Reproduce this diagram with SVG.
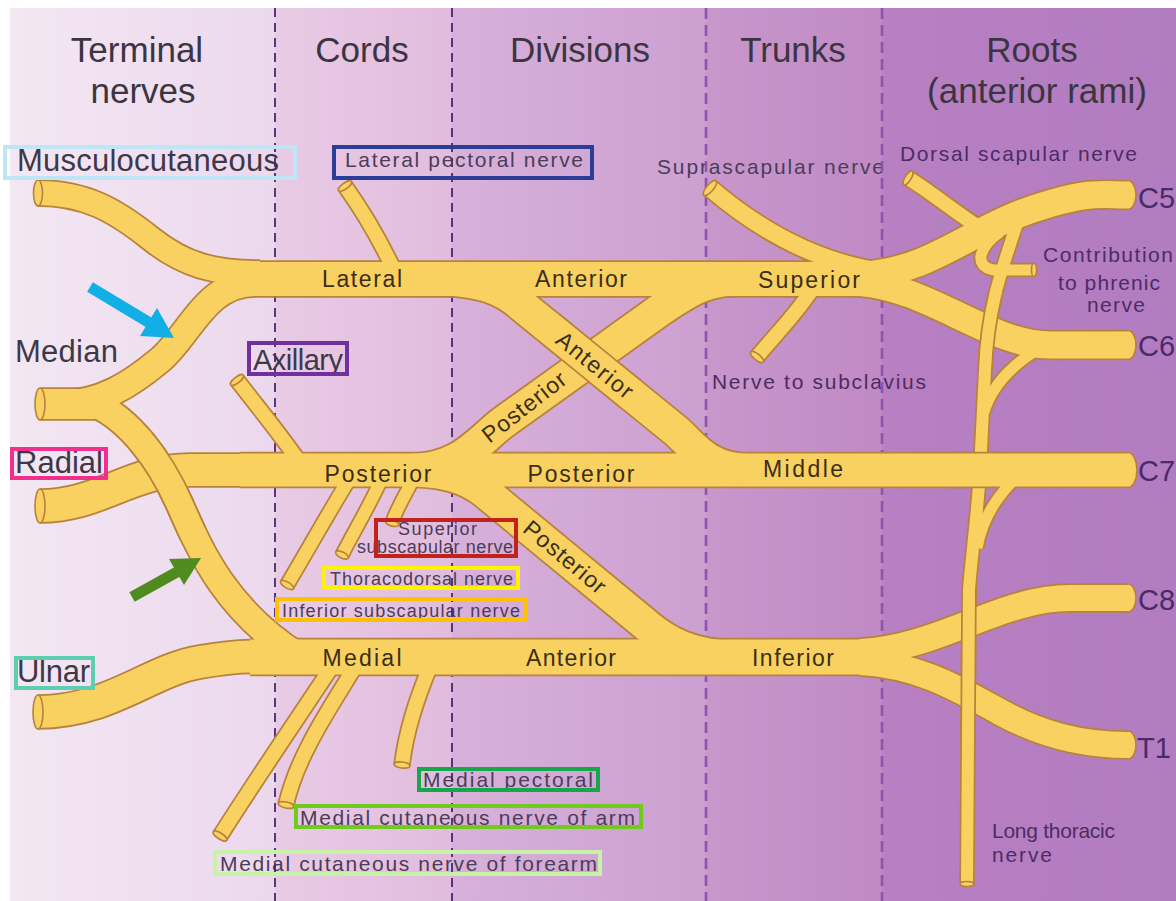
<svg xmlns="http://www.w3.org/2000/svg" width="1176" height="901" viewBox="0 0 1176 901">
<defs>
<style>
.lbl{font-family:"Liberation Sans",Arial,Helvetica,sans-serif}
.hd{font-size:35px;fill:#3a3541;text-anchor:middle}
.tn{font-size:31px;fill:#3e3846}
.sm{font-size:21px;fill:#4b3d57}
.xs{font-size:18px;fill:#4b3d57}
.smr{font-size:21px;fill:#4d2c63}
.rt{font-size:29px;fill:#4a2a6a}
.bd{font-size:23px;fill:#3b2e17;text-anchor:middle}
.ol{fill:none;stroke:#b7823c;stroke-linejoin:round}
.fl{fill:none;stroke:#f9d160;stroke-linejoin:round}
.rc{stroke-linecap:round}
.cap{fill:#f9d160;stroke:#b7823c;stroke-width:1.6}
.dv1{stroke:#45286b;stroke-width:1.8;stroke-dasharray:9 6;fill:none}
.dv2{stroke:#8c55ad;stroke-width:2.6;stroke-dasharray:11 6;fill:none}
.box{fill:none;stroke-width:4}
.w11{stroke-width:11}.ol.w11{stroke-width:14.5}
.w12{stroke-width:12}.ol.w12{stroke-width:15.5}
.w13{stroke-width:13}.ol.w13{stroke-width:16.5}
.w14{stroke-width:14}.ol.w14{stroke-width:17.5}
.w17{stroke-width:17}.ol.w17{stroke-width:20.5}
.w24{stroke-width:24}.ol.w24{stroke-width:27.5}
.w26{stroke-width:26}.ol.w26{stroke-width:29.5}
.w27{stroke-width:27}.ol.w27{stroke-width:30.5}
.w30{stroke-width:30}.ol.w30{stroke-width:33.5}
.w32{stroke-width:32}.ol.w32{stroke-width:35.5}
.w33{stroke-width:33}.ol.w33{stroke-width:36.5}
.w34{stroke-width:34}.ol.w34{stroke-width:37.5}
.w35{stroke-width:35}.ol.w35{stroke-width:38.5}
</style>
<linearGradient id="bg-term" x1="0" x2="1" y1="0" y2="0"><stop offset="0" stop-color="#f3e7f3"/><stop offset="1" stop-color="#ecd8ed"/></linearGradient>
<linearGradient id="bg-cord" x1="0" x2="1" y1="0" y2="0"><stop offset="0" stop-color="#e9cbe5"/><stop offset="1" stop-color="#e1bcdd"/></linearGradient>
<linearGradient id="bg-div" x1="0" x2="1" y1="0" y2="0"><stop offset="0" stop-color="#d8b1da"/><stop offset="1" stop-color="#cc9fd1"/></linearGradient>
<linearGradient id="bg-trunk" x1="0" x2="1" y1="0" y2="0"><stop offset="0" stop-color="#c897cb"/><stop offset="1" stop-color="#c08ac5"/></linearGradient>
<linearGradient id="bg-root" x1="0" x2="1" y1="0" y2="0"><stop offset="0" stop-color="#b880c3"/><stop offset="1" stop-color="#b27cc0"/></linearGradient>

<!-- nerve centre-lines -->
<path id="n-musc" d="M38 193 C85 193 115 210 150 238 S215 273 260 273"/>
<path id="n-median" d="M40 404 H115"/>
<path id="n-latroot" d="M60 404 C100 404 130 385 160 360 S205 283 255 283"/>
<path id="n-medroot" pathLength="100" d="M95 404 C130 420 160 460 180 505 S225 610 300 657"/>
<path id="n-radial" d="M40 506 C100 506 130 470 190 470 L260 470"/>
<path id="n-ulnar" d="M38 712 C110 712 150 670 200 662 S250 657 280 657"/>
<path id="n-lat" d="M240 279 H885"/>
<path id="n-post" d="M240 470 H1128"/>
<path id="n-med" d="M250 657 H885"/>
<path id="n-antdiv" pathLength="100" d="M420 279 C462 279 492 282 515 300 L675 430 C690 442 705 470 750 470"/>
<path id="n-postdiv1" d="M745 279 C705 279 690 290 660 310 L505 421 C480 439 462 470 410 470"/>
<path id="n-postdiv2" d="M400 470 C440 470 465 476 485 492 L650 628 C665 640 690 657 740 657"/>
<path id="n-c5" d="M860 275.5 C930 272 970 230 1030 210 S1100 195 1128 195"/>
<path id="n-c6" d="M860 282.5 C930 288 990 345 1050 345 L1128 345"/>
<path id="n-c8" d="M860 652 C940 648 1000 598 1070 598 L1128 598"/>
<path id="n-t1" d="M860 662 C920 665 960 690 1000 712 S1080 745 1128 745"/>
<path id="n-latpec" d="M395 272 C380 240 362 210 345 186"/>
<path id="n-supra" d="M885 272 C810 262 752 224 710 188"/>
<path id="n-subcl" d="M815 285 C800 310 775 335 757 357"/>
<path id="n-dorsal" d="M908 178 C935 195 955 212 980 228"/>
<path id="n-phrenic" d="M1000 232 C980 246 972 266 994 270 L1034 270"/>
<path id="n-lt1" pathLength="100" d="M1018 220 C1005 262 988 300 985 370"/>
<path id="n-lt2" d="M985 370 L980 470 C977 520 971 560 969 590"/>
<path id="n-lt3" pathLength="100" d="M969 590 L967 884"/>
<path id="n-c6lt" d="M1045 345 C1015 362 992 385 984 412"/>
<path id="n-c7lt" d="M1022 472 C1000 492 983 515 977 548"/>
<path id="n-ss1" d="M350 478 C330 510 305 555 287 585"/>
<path id="n-ss2" d="M382 478 C370 505 352 535 342 555"/>
<path id="n-ss3" d="M414 478 C405 495 396 510 392 523"/>
<path id="n-axil" d="M305 470 C285 440 260 410 237 380"/>
<path id="n-mcf" d="M335 662 C310 700 262 770 220 836"/>
<path id="n-mca" d="M358 662 C332 705 297 755 286 805"/>
<path id="n-mp" d="M432 662 C420 690 406 730 402 765"/>
</defs>

<!-- background columns -->
<g id="background">
<rect x="0" y="0" width="1176" height="901" fill="#ffffff"/>
<rect x="10" y="8" width="265" height="893" fill="url(#bg-term)"/>
<rect x="275" y="8" width="177" height="893" fill="url(#bg-cord)"/>
<rect x="452" y="8" width="254" height="893" fill="url(#bg-div)"/>
<rect x="706" y="8" width="176" height="893" fill="url(#bg-trunk)"/>
<rect x="882" y="8" width="294" height="893" fill="url(#bg-root)"/>
</g>

<!-- column headings -->
<g id="headings" class="lbl hd">
<text x="137" y="62">Terminal</text>
<text x="143" y="103">nerves</text>
<text x="362" y="62">Cords</text>
<text x="580" y="62">Divisions</text>
<text x="793" y="62">Trunks</text>
<text x="1032" y="62">Roots</text>
<text x="1037" y="103">(anterior rami)</text>
</g>

<!-- names of nerves -->
<g id="labels" class="lbl">
<text class="tn" x="17" y="171" textLength="262">Musculocutaneous</text>
<text class="tn" x="15" y="362" textLength="103">Median</text>
<text class="tn" x="15" y="473" textLength="88">Radial</text>
<text class="tn" x="17" y="682" textLength="73">Ulnar</text>
<text class="tn" x="253" y="370" textLength="90" style="font-size:29px">Axillary</text>
<text class="sm" x="345" y="167" textLength="238">Lateral pectoral nerve</text>
<text class="sm" x="657" y="174" textLength="227">Suprascapular nerve</text>
<text class="smr" x="900" y="161" textLength="237">Dorsal scapular nerve</text>
<text class="smr" x="1043" y="262" textLength="130">Contribution</text>
<text class="smr" x="1058" y="290" textLength="102">to phrenic</text>
<text class="smr" x="1087" y="312" textLength="58">nerve</text>
<text class="smr" x="712" y="389" textLength="214">Nerve to subclavius</text>
<text class="xs" x="398" y="535" textLength="79">Superior</text>
<text class="xs" x="357" y="553" textLength="156">subscapular nerve</text>
<text class="xs" x="330" y="585" textLength="183">Thoracodorsal nerve</text>
<text class="xs" x="282" y="617" textLength="238">Inferior subscapular nerve</text>
<text class="sm" x="423" y="787" textLength="170">Medial pectoral</text>
<text class="sm" x="300" y="825" textLength="335">Medial cutaneous nerve of arm</text>
<text class="sm" x="220" y="871" textLength="377">Medial cutaneous nerve of forearm</text>
<text class="smr" x="992" y="838" textLength="123">Long thoracic</text>
<text class="smr" x="992" y="862" textLength="60">nerve</text>
<text class="rt" x="1138" y="208">C5</text>
<text class="rt" x="1138" y="356">C6</text>
<text class="rt" x="1138" y="481">C7</text>
<text class="rt" x="1138" y="610">C8</text>
<text class="rt" x="1137" y="758">T1</text>
</g>

<!-- column dividers -->
<g id="dividers">
<line class="dv1" x1="275" y1="8" x2="275" y2="901"/>
<line class="dv1" x1="452" y1="8" x2="452" y2="901"/>
<line class="dv2" x1="706" y1="8" x2="706" y2="901"/>
<line class="dv2" x1="882" y1="8" x2="882" y2="901"/>
</g>

<!-- nerves: all outlines first, then all fills, so junctions merge -->
<g id="connectors">
<g id="nerve-outlines">
<use href="#n-lt1" class="ol w12"/><use href="#n-lt2" class="ol w12"/><use href="#n-lt3" class="ol w12"/>
<use href="#n-c6lt" class="ol w11"/><use href="#n-c7lt" class="ol w11"/><use href="#n-phrenic" class="ol w11"/>
<use href="#n-dorsal" class="ol w14"/><use href="#n-supra" class="ol w17"/><use href="#n-subcl" class="ol w14"/>
<use href="#n-latpec" class="ol w14"/><use href="#n-axil" class="ol w14"/>
<use href="#n-ss1" class="ol w13"/><use href="#n-ss2" class="ol w12"/><use href="#n-ss3" class="ol w12"/>
<use href="#n-mcf" class="ol w14"/><use href="#n-mca" class="ol w14"/><use href="#n-mp" class="ol w14"/>
<use href="#n-musc" class="ol w24"/><use href="#n-median" class="ol w30"/><use href="#n-latroot" class="ol w26"/>
<use href="#n-medroot" class="ol w26"/><use href="#n-radial" class="ol w32"/><use href="#n-ulnar" class="ol w32"/>
<use href="#n-lat" class="ol w34"/><use href="#n-post" class="ol w33"/><use href="#n-med" class="ol w35"/>
<use href="#n-antdiv" class="ol w32"/><use href="#n-postdiv1" class="ol w32"/><use href="#n-postdiv2" class="ol w32"/>
<use href="#n-c5" class="ol w27"/><use href="#n-c6" class="ol w27"/><use href="#n-c8" class="ol w26"/><use href="#n-t1" class="ol w26"/>
</g>
<g id="nerve-fills">
<use href="#n-lt1" class="fl w12"/><use href="#n-lt2" class="fl w12"/><use href="#n-lt3" class="fl w12"/>
<use href="#n-c6lt" class="fl w11"/><use href="#n-c7lt" class="fl w11"/><use href="#n-phrenic" class="fl w11"/>
<use href="#n-dorsal" class="fl w14"/><use href="#n-supra" class="fl w17"/><use href="#n-subcl" class="fl w14"/>
<use href="#n-latpec" class="fl w14"/><use href="#n-axil" class="fl w14"/>
<use href="#n-ss1" class="fl w13"/><use href="#n-ss2" class="fl w12"/><use href="#n-ss3" class="fl w12"/>
<use href="#n-mcf" class="fl w14"/><use href="#n-mca" class="fl w14"/><use href="#n-mp" class="fl w14"/>
<use href="#n-musc" class="fl w24"/><use href="#n-median" class="fl w30"/><use href="#n-latroot" class="fl w26"/>
<use href="#n-medroot" class="fl w26"/><use href="#n-radial" class="fl w32"/><use href="#n-ulnar" class="fl w32"/>
<use href="#n-lat" class="fl w34"/><use href="#n-post" class="fl w33"/><use href="#n-med" class="fl w35"/>
<use href="#n-antdiv" class="fl w32"/><use href="#n-postdiv1" class="fl w32"/><use href="#n-postdiv2" class="fl w32"/>
<use href="#n-c5" class="fl w27"/><use href="#n-c6" class="fl w27"/><use href="#n-c8" class="fl w26"/><use href="#n-t1" class="fl w26"/>
</g>

<!-- crossings: the upper nerve is redrawn over the lower one; round-capped fills hide the joins -->
<g id="crossings">
<use href="#n-medroot" class="ol w26" stroke-dasharray="32 200" stroke-dashoffset="-18"/>
<use href="#n-medroot" class="fl w26 rc" stroke-dasharray="32 200" stroke-dashoffset="-18"/>
<use href="#n-antdiv" class="ol w32" stroke-dasharray="27 200" stroke-dashoffset="-36"/>
<use href="#n-antdiv" class="fl w32 rc" stroke-dasharray="27 200" stroke-dashoffset="-36"/>
<use href="#n-lt1" class="ol w12" stroke-dasharray="50 200" stroke-dashoffset="-50"/>
<use href="#n-lt1" class="fl w12 rc" stroke-dasharray="50 200" stroke-dashoffset="-50"/>
<use href="#n-lt3" class="ol w12" stroke-dasharray="52 200"/>
<use href="#n-lt3" class="fl w12 rc" stroke-dasharray="52 200"/>
<path d="M950 470 H996" class="ol w33"/>
<path d="M950 470 H996" class="fl w33"/>
</g>

<!-- cut ends of the nerves -->
<g id="nerve-ends" class="cap">
<ellipse cx="38" cy="193" rx="4.5" ry="13"/>
<ellipse cx="40" cy="404" rx="5" ry="16"/>
<ellipse cx="40" cy="506" rx="5" ry="17"/>
<ellipse cx="38" cy="712" rx="5" ry="17"/>
<ellipse cx="237" cy="380" rx="3" ry="8" transform="rotate(-127.5 237 380)"/>
<ellipse cx="345" cy="186" rx="3" ry="8" transform="rotate(-125.3 345 186)"/>
<ellipse cx="287" cy="585" rx="3" ry="7.5" transform="rotate(121 287 585)"/>
<ellipse cx="342" cy="555" rx="3" ry="7" transform="rotate(116.6 342 555)"/>
<ellipse cx="392" cy="523" rx="3" ry="7" transform="rotate(107 392 523)"/>
<ellipse cx="220" cy="836" rx="3" ry="8" transform="rotate(122.5 220 836)"/>
<ellipse cx="286" cy="805" rx="3" ry="8" transform="rotate(102.4 286 805)"/>
<ellipse cx="402" cy="765" rx="3" ry="8" transform="rotate(96.5 402 765)"/>
<ellipse cx="710" cy="188" rx="3.5" ry="9.5" transform="rotate(-139.4 710 188)"/>
<ellipse cx="757" cy="357" rx="3" ry="8" transform="rotate(129.3 757 357)"/>
<ellipse cx="908" cy="178" rx="3" ry="8" transform="rotate(-147.8 908 178)"/>
<ellipse cx="1034" cy="270" rx="2.5" ry="6.5"/>
<ellipse cx="967" cy="884" rx="2.5" ry="7" transform="rotate(90 967 884)"/>
<path d="M1128 180.5 A8 14.5 0 0 1 1128 209.5"/>
<path d="M1128 330.5 A8 14.5 0 0 1 1128 359.5"/>
<path d="M1128 452.5 A9 17.5 0 0 1 1128 487.5"/>
<path d="M1128 584 A8 14 0 0 1 1128 612"/>
<path d="M1128 731 A8 14 0 0 1 1128 759"/>
</g>
</g>

<!-- names printed on the cords, divisions and trunks -->
<g id="band-labels" class="lbl bd">
<text x="362" y="287" textLength="80">Lateral</text>
<text x="581" y="287" textLength="92">Anterior</text>
<text x="809" y="288" textLength="102">Superior</text>
<text x="378" y="482" textLength="107">Posterior</text>
<text x="581" y="482" textLength="107">Posterior</text>
<text x="803" y="477" textLength="80">Middle</text>
<text x="362" y="666" textLength="79">Medial</text>
<text x="571" y="666" textLength="90">Anterior</text>
<text x="793" y="666" textLength="82">Inferior</text>
<text transform="translate(595 365) rotate(39)" x="0" y="8" textLength="92">Anterior</text>
<text transform="translate(524 407) rotate(-38)" x="0" y="8" textLength="100">Posterior</text>
<text transform="translate(565 557) rotate(40)" x="0" y="8" textLength="100">Posterior</text>
</g>

<!-- highlight frames -->
<g id="frames" class="box">
<rect x="5" y="147" width="290" height="31" stroke="#bde6f6"/>
<rect x="334" y="147" width="258" height="31" stroke="#2b3d96"/>
<rect x="249" y="343" width="98" height="31" stroke="#7030a0"/>
<rect x="12" y="449" width="94" height="29" stroke="#f0308c"/>
<rect x="376" y="520" width="140" height="36" stroke="#c1221b"/>
<rect x="324" y="568" width="194" height="20" stroke="#fff200"/>
<rect x="277" y="599" width="249" height="21" stroke="#ffc000"/>
<rect x="16" y="658" width="77" height="30" stroke="#5dcfb0"/>
<rect x="419" y="769" width="179" height="21" stroke="#15a84b"/>
<rect x="296" y="806" width="345" height="21" stroke="#6fcc1f"/>
<rect x="215" y="852" width="385" height="22" stroke="#c8f2a6"/>
</g>

<!-- pointer arrows -->
<g id="arrow-blue" fill="#12aee6">
<line x1="90" y1="287" x2="149" y2="322.5" stroke="#12aee6" stroke-width="11"/>
<polygon points="174,338 140,336 157,308"/>
</g>
<g id="arrow-green" fill="#4f8b1e">
<line x1="132" y1="597" x2="177" y2="572" stroke="#4f8b1e" stroke-width="11"/>
<polygon points="201,558 184,585 169,559"/>
</g>
</svg>
